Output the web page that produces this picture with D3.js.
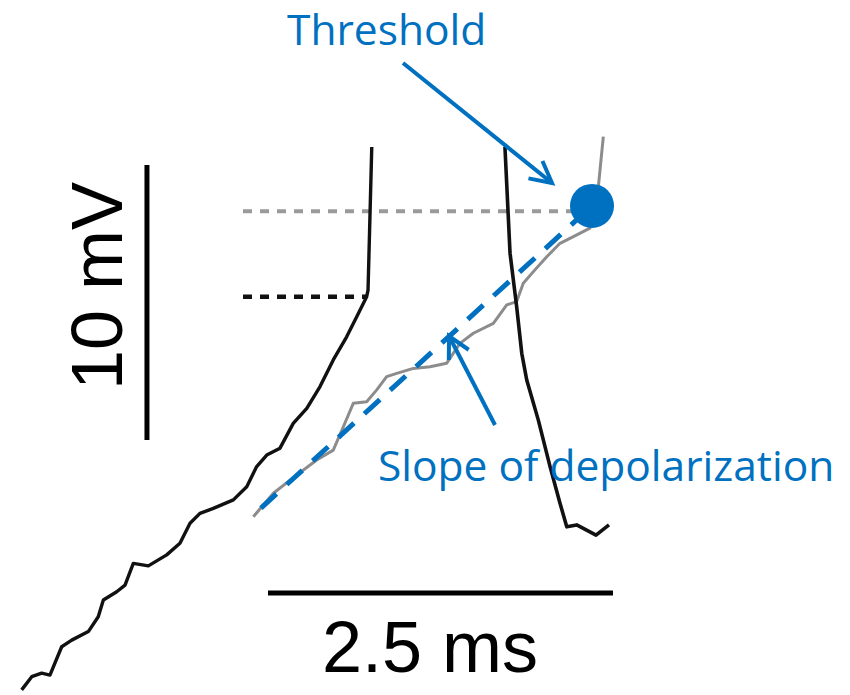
<!DOCTYPE html>
<html>
<head>
<meta charset="utf-8">
<script src="https://cdn.jsdelivr.net/npm/d3@7"></script>
<style>
  html, body { margin: 0; padding: 0; background: #fff; }
  svg { display: block; }
</style>
</head>
<body>
<svg id="chart" width="850" height="695"></svg>
<script>
// Membrane potential traces: time in ms, voltage in mV (relative)
const earlySpikeTrace = [
  [0.012, -0.36], [0.085, 0.12], [0.157, 0.25], [0.217, 0.18], [0.302, 1.21],
  [0.375, 1.45], [0.495, 1.76], [0.567, 2.30], [0.604, 2.91], [0.701, 3.21],
  [0.761, 3.45], [0.821, 4.24], [0.930, 4.15], [1.063, 4.55], [1.159, 4.97],
  [1.232, 5.70], [1.304, 6.06], [1.401, 6.24], [1.546, 6.55], [1.643, 7.03],
  [1.715, 7.76], [1.788, 8.18], [1.884, 8.43], [1.980, 9.33], [2.078, 9.88],
  [2.174, 10.67], [2.270, 11.64], [2.367, 12.48], [2.440, 13.21], [2.512, 13.94],
  [2.522, 14.18], [2.549, 19.38]
];

const lateSpikeTrace = [
  [1.691, 5.94], [1.836, 6.79], [1.957, 7.27], [2.150, 8.00], [2.270, 8.36],
  [2.343, 9.21], [2.415, 10.06], [2.512, 10.12], [2.585, 10.55], [2.657, 11.03],
  [2.730, 11.15], [2.850, 11.33], [2.971, 11.39], [3.092, 11.52], [3.188, 12.24],
  [3.285, 12.61], [3.430, 12.97], [3.527, 13.64], [3.599, 13.76], [3.647, 14.43],
  [3.720, 14.85], [3.817, 15.39], [3.913, 15.88], [4.010, 16.12], [4.130, 16.43],
  [4.191, 17.94], [4.227, 19.76]
];

const repolarizationTrace = [
  [3.514, 19.39], [3.551, 15.52], [3.599, 13.57], [3.636, 11.88], [3.672, 10.91],
  [3.756, 9.45], [3.841, 7.76], [3.913, 6.43], [3.962, 5.57], [4.034, 5.64],
  [4.116, 5.42], [4.174, 5.27], [4.268, 5.64]
];

// Threshold levels [tStart, tEnd, mV]
const earlyThreshold = [1.616, 2.512, 13.94];
const lateThreshold = [1.616, 4.145, 17.05];
const thresholdPoint = [4.145, 17.24];
const slopeStart = [1.746, 6.25];

// Scale bars
const timeBar = { t0: 1.797, length: 2.5, v: 3.16, label: "2.5 ms" };
const voltBar = { t: 0.920, v0: 8.73, length: 10, label: "10 mV" };

const labels = ["Threshold", "Slope of depolarization"];

const blue = "#0070C0";
const svg = d3.select("#chart");

const x = d3.scaleLinear().domain([0, 6]).range([20, 848]);
const y = d3.scaleLinear().domain([0, 24]).range([680, 20]);

const line = d3.line().x(d => x(d[0])).y(d => y(d[1]));

// Threshold reference lines
svg.append("line")
  .attr("x1", x(lateThreshold[0])).attr("x2", x(lateThreshold[1]))
  .attr("y1", y(lateThreshold[2])).attr("y2", y(lateThreshold[2]))
  .attr("stroke", "#9a9a9a").attr("stroke-width", 4)
  .attr("stroke-dasharray", "9 8");

svg.append("line")
  .attr("x1", x(earlyThreshold[0])).attr("x2", x(earlyThreshold[1]))
  .attr("y1", y(earlyThreshold[2])).attr("y2", y(earlyThreshold[2]))
  .attr("stroke", "#111").attr("stroke-width", 4.5)
  .attr("stroke-dasharray", "9 8");

// Traces
svg.append("path").datum(lateSpikeTrace)
  .attr("d", line).attr("fill", "none")
  .attr("stroke", "#8c8c8c").attr("stroke-width", 3)
  .attr("stroke-linejoin", "round");

svg.append("path").datum(earlySpikeTrace)
  .attr("d", line).attr("fill", "none")
  .attr("stroke", "#111").attr("stroke-width", 3.4)
  .attr("stroke-linejoin", "round");

svg.append("path").datum(repolarizationTrace)
  .attr("d", line).attr("fill", "none")
  .attr("stroke", "#111").attr("stroke-width", 3.6)
  .attr("stroke-linejoin", "round");

// Scale bars
svg.append("line")
  .attr("x1", x(timeBar.t0)).attr("x2", x(timeBar.t0 + timeBar.length))
  .attr("y1", y(timeBar.v)).attr("y2", y(timeBar.v))
  .attr("stroke", "#000").attr("stroke-width", 5);

svg.append("text")
  .attr("x", 430).attr("y", 672)
  .attr("text-anchor", "middle")
  .attr("font-family", "Liberation Sans, Arial, sans-serif")
  .attr("font-size", 72).attr("fill", "#000")
  .text(timeBar.label);

svg.append("line")
  .attr("x1", x(voltBar.t)).attr("x2", x(voltBar.t))
  .attr("y1", y(voltBar.v0)).attr("y2", y(voltBar.v0 + voltBar.length))
  .attr("stroke", "#000").attr("stroke-width", 5);

svg.append("text")
  .attr("transform", "translate(122, 286) rotate(-90)")
  .attr("text-anchor", "middle")
  .attr("font-family", "Liberation Sans, Arial, sans-serif")
  .attr("font-size", 72).attr("fill", "#000")
  .text(voltBar.label);

// Slope of depolarization (dashed fit to threshold)
svg.append("line")
  .attr("x1", x(slopeStart[0])).attr("y1", y(slopeStart[1]))
  .attr("x2", x(thresholdPoint[0])).attr("y2", y(thresholdPoint[1]))
  .attr("stroke", blue).attr("stroke-width", 5)
  .attr("stroke-dasharray", "21 14");

// Threshold marker
svg.append("circle")
  .attr("cx", x(thresholdPoint[0])).attr("cy", y(thresholdPoint[1]))
  .attr("r", 22).attr("fill", blue);

// Annotation arrows with open heads
function arrow(x1, y1, x2, y2) {
  const a = Math.atan2(y2 - y1, x2 - x1);
  const len = 24, spread = Math.PI / 6.5;
  const p1 = [x2 - len * Math.cos(a - spread), y2 - len * Math.sin(a - spread)];
  const p2 = [x2 - len * Math.cos(a + spread), y2 - len * Math.sin(a + spread)];
  const g = svg.append("g").attr("stroke", blue).attr("stroke-width", 4)
    .attr("fill", "none");
  g.append("line").attr("x1", x1).attr("y1", y1).attr("x2", x2).attr("y2", y2);
  g.append("path").attr("d", `M${p1[0]},${p1[1]}L${x2},${y2}L${p2[0]},${p2[1]}`)
    .attr("stroke-linejoin", "miter");
}
arrow(403, 63, 552, 183);
arrow(495, 425, 449, 336);

// Annotation labels
svg.append("text")
  .attr("x", 287).attr("y", 45)
  .attr("font-family", "Open Sans, sans-serif")
  .attr("font-size", 42.5).attr("fill", blue)
  .text(labels[0]);

svg.append("text")
  .attr("x", 378).attr("y", 481)
  .attr("font-family", "Open Sans, sans-serif")
  .attr("font-size", 42.5).attr("fill", blue)
  .text(labels[1]);
</script>
</body>
</html>
